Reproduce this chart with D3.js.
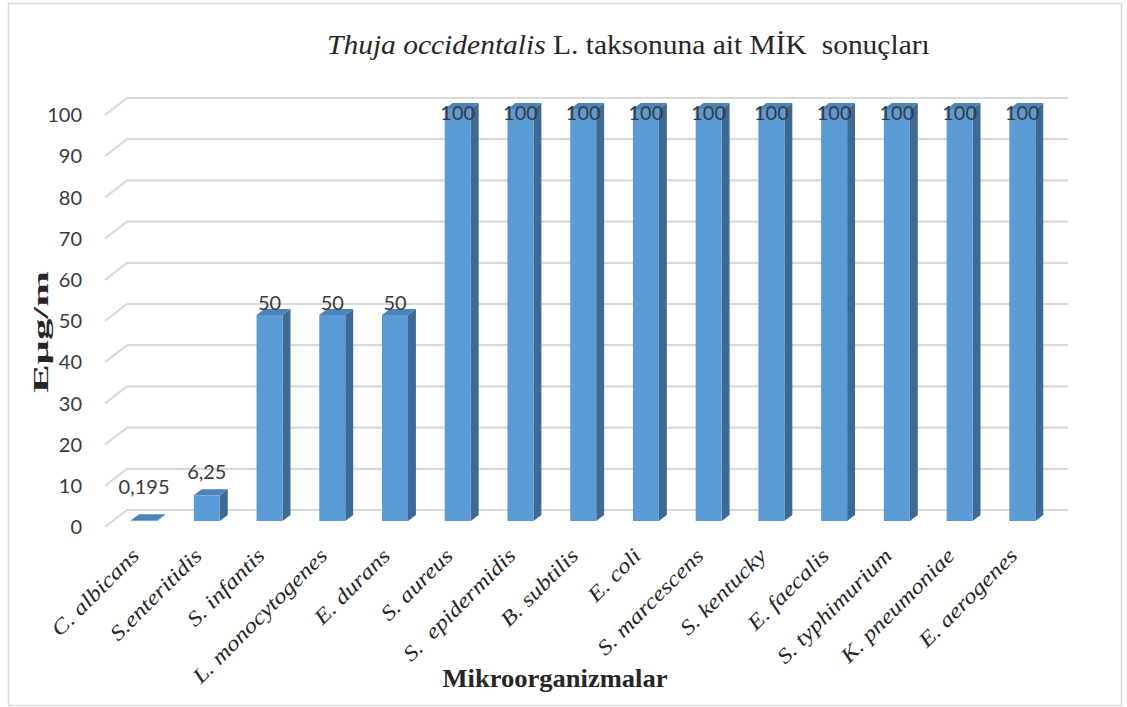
<!DOCTYPE html>
<meta charset="utf-8">
<style>
  body { margin: 0; background: #fff; }
  text { white-space: pre; }
  .serif, .serif tspan { font-family: "Liberation Serif", "Times New Roman", serif; }
</style>
<body>
<script src="https://cdn.jsdelivr.net/npm/d3@7"></script>
<script>

var width = 1127,
    height = 707;

// data
var organisms = ["C. albicans", "S.enteritidis", "S. infantis", "L. monocytogenes", "E. durans",
  "S. aureus", "S.  epidermidis", "B. subtilis", "E. coli", "S. marcescens", "S. kentucky",
  "E. faecalis", "S. typhimurium", "K. pneumoniae", "E. aerogenes"];
var micValues = [0.195, 6.25, 50, 50, 50, 100, 100, 100, 100, 100, 100, 100, 100, 100, 100];
var yTicks = [0, 10, 20, 30, 40, 50, 60, 70, 80, 90, 100];

var depth = [22, -17],   // front -> back wall offset
    barFront = 0.35,      // bar front face, fraction of depth
    barBack = 0.71,
    barWidth = 26;

var x = d3.scaleBand()
    .domain(organisms)
    .range([105, 1046]);

var y = d3.scaleLinear()
    .domain([0, 100])
    .range([527, 115]);

var fmt = function(v) { return String(v).replace(".", ","); };

var svg = d3.select("body").append("svg")
    .attr("width", width)
    .attr("height", height);

svg.append("rect")
    .attr("x", 8.5).attr("y", 3.5)
    .attr("width", 1113).attr("height", 702)
    .attr("fill", "#fff")
    .attr("stroke", "#d9d9d9")
    .attr("stroke-width", 1.5);

// gridlines: little floor/side diagonal then along back wall
var grid = svg.append("g")
    .attr("fill", "none")
    .attr("stroke", "#d9d9d9")
    .attr("stroke-width", 2.2);

grid.selectAll("path")
    .data(yTicks)
  .enter().append("path")
    .attr("d", function(d) {
      var x0 = x.range()[0], x1 = x.range()[1];
      return "M" + x0 + "," + y(d) +
        "L" + (x0 + depth[0]) + "," + (y(d) + depth[1]) +
        "L" + (x1 + depth[0]) + "," + (y(d) + depth[1]);
    });

// tick labels
svg.append("g")
  .selectAll("text")
    .data(yTicks)
  .enter().append("text")
    .attr("x", 82)
    .attr("y", function(d) { return y(d); })
    .attr("dy", "0.36em")
    .attr("text-anchor", "end")
    .attr("font-family", "Lato, 'Open Sans', sans-serif")
    .attr("font-size", 20)
    .attr("fill", "#3a3a3a")
    .text(function(d) { return d; });

// 3D bars
var bars = svg.append("g")
  .selectAll("g")
    .data(organisms)
  .enter().append("g");

function pt(cx, v, d) {
  return [cx + d * depth[0], y(v) + d * depth[1]];
}

bars.each(function(name, i) {
  var g = d3.select(this),
      v = micValues[i],
      c = x(name) + x.bandwidth() / 2,
      l = c - barWidth / 2,
      r = c + barWidth / 2;

  var fbl = pt(l, 0, barFront), fbr = pt(r, 0, barFront),
      ftl = pt(l, v, barFront), ftr = pt(r, v, barFront),
      bbr = pt(r, 0, barBack), btl = pt(l, v, barBack), btr = pt(r, v, barBack);

  // side face
  g.append("path")
      .attr("d", "M" + [fbr, bbr, btr, ftr].join("L") + "Z")
      .attr("fill", "#3d6a94");
  // top face
  g.append("path")
      .attr("d", "M" + [ftl, ftr, btr, btl].join("L") + "Z")
      .attr("fill", "#4c83b8");
  // front face
  g.append("path")
      .attr("d", "M" + [fbl, fbr, ftr, ftl].join("L") + "Z")
      .attr("fill", "#5b9bd5");

  // value label
  var top = ftl[1],
      ly = Math.max(top - 12 - 22 * Math.exp(-v / 10), 113);
  g.append("text")
      .attr("x", c + barFront * depth[0])
      .attr("y", ly)
      .attr("dy", "0.36em")
      .attr("text-anchor", "middle")
      .attr("font-family", "Lato, 'Open Sans', sans-serif")
      .attr("font-size", 20)
      .attr("fill", "#3a3a3a")
      .text(fmt(v));
});

// category labels, rotated
svg.append("g")
  .selectAll("text")
    .data(organisms)
  .enter().append("text")
    .attr("class", "serif")
    .attr("transform", function(d) {
      return "translate(" + (x(d) + x.bandwidth() / 2 + 4) + ",557) rotate(-45)";
    })
    .attr("text-anchor", "end")
    .attr("font-style", "italic")
    .attr("font-size", 21)
    .attr("fill", "#262626")
    .text(function(d) { return d; })
    .each(function() {
      var w = this.getComputedTextLength();
      d3.select(this)
        .attr("textLength", w * 1.19)
        .attr("lengthAdjust", "spacingAndGlyphs");
    });

// title
var title = svg.append("text")
    .attr("class", "serif")
    .attr("x", 0)
    .attr("y", 0)
    .attr("font-size", 27)
    .attr("fill", "#262626");
title.append("tspan").attr("font-style", "italic").text("Thuja occidentalis");
title.append("tspan").text(" L. taksonuna ait MİK  sonuçları");
var tw = title.node().getBBox().width;
title.attr("transform", "translate(327,54) scale(" + (603 / tw) + ",1)");

// axis titles
svg.append("text")
    .attr("class", "serif")
    .attr("transform", "translate(48,332) rotate(-90)")
    .attr("text-anchor", "middle")
    .attr("font-weight", "bold")
    .attr("font-size", 21)
    .attr("fill", "#262626")
    .attr("textLength", 122)
    .attr("lengthAdjust", "spacingAndGlyphs")
    .text("Eμg/m");

svg.append("text")
    .attr("class", "serif")
    .attr("x", 555)
    .attr("y", 687)
    .attr("text-anchor", "middle")
    .attr("font-weight", "bold")
    .attr("font-size", 25)
    .attr("fill", "#262626")
    .attr("textLength", 225)
    .attr("lengthAdjust", "spacingAndGlyphs")
    .text("Mikroorganizmalar");

</script>
